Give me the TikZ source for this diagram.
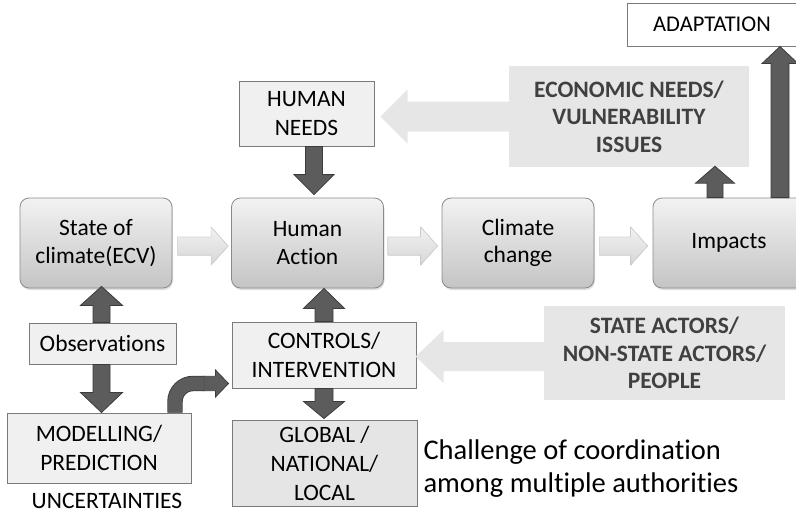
\documentclass[tikz,border=0pt]{standalone}
\usepackage{fontspec}
\setmainfont{Carlito}[Ligatures=NoCommon]
\usetikzlibrary{calc,shadows}

\definecolor{darkfill}{HTML}{5C5C5C}
\definecolor{darkline}{HTML}{3C3C3C}
\definecolor{boxline}{HTML}{8A8A8A}
\definecolor{rectline}{HTML}{7A7A7A}
\definecolor{paneltxt}{HTML}{404040}
\definecolor{panelfill}{HTML}{E6E6E6}
\definecolor{flowline}{HTML}{D2D2D2}

% block arrow: #1 style, #2 start, #3 tip, #4 shaft half width, #5 head half width, #6 head length
\newcommand\blockarrow[6]{%
  \coordinate (ba-a) at #2;
  \coordinate (ba-b) at #3;
  \coordinate (ba-h) at ($(ba-b)!#6!(ba-a)$);
  \filldraw[#1] ($(ba-a)!#4!90:(ba-b)$) -- ($(ba-h)!#4!-90:(ba-a)$)
    -- ($(ba-h)!#5!-90:(ba-a)$) -- (ba-b) -- ($(ba-h)!#5!90:(ba-a)$)
    -- ($(ba-h)!#4!90:(ba-a)$) -- ($(ba-a)!#4!-90:(ba-b)$) -- cycle;
}

\tikzset{
  mainbox/.style={rounded corners=9pt, draw=boxline, line width=0.8pt,
    top color=white!95!black, bottom color=white!77!black,
    minimum width=152pt, minimum height=90pt, align=center,
    font=\fontsize{23.5}{27.5}\selectfont,
    drop shadow={opacity=0.25, shadow xshift=1pt, shadow yshift=-2pt}},
  rectbox/.style={draw=rectline, line width=1pt, fill=white!94!black,
    align=center, font=\fontsize{23.5}{29}\selectfont, inner sep=2pt},
  panel/.style={fill=panelfill, align=center, text=paneltxt,
    font=\bfseries\fontsize{23.5}{27.5}\selectfont},
  darkarrow/.style={fill=darkfill, draw=darkline, line width=0.8pt, line join=miter},
  flowarrow/.style={top color=white!95!black, bottom color=white!84!black,
    draw=flowline, line width=0.6pt},
  bigarrow/.style={fill=panelfill, draw=none},
}

\begin{document}
\begin{tikzpicture}[x=1pt,y=-1pt]
\useasboundingbox (0,0) rectangle (796,515);
\clip (0,0) rectangle (796,515);

% panel centres (the panels themselves are drawn over their wide arrows)
\coordinate (eco) at (629,116.5);
\coordinate (sa) at (664.5,353);

% main chain
\node[mainbox] (soc) at (96,243) {State of\\climate(ECV)};
\node[mainbox] (ha) at (307.5,243) {Human\\Action};
\node[mainbox] (cc) at (518,243) {Climate\\change};
\node[mainbox] (imp) at (729,243) {Impacts};

% rectangular boxes
\node[rectbox, minimum width=135pt, minimum height=65pt] (hn) at (306.5,113.5) {HUMAN\\NEEDS};
\node[rectbox, fill=white, minimum width=170pt, minimum height=43pt,
  font=\fontsize{22.5}{26}\selectfont] (adp) at (712,24.5) {ADAPTATION};
\node[rectbox, minimum width=147pt, minimum height=41pt] (obs) at (102.5,343.5) {Observations};
\node[rectbox, minimum width=184pt, minimum height=70pt] (mod) at (99,448) {MODELLING/\\PREDICTION};
\node[rectbox, minimum width=184pt, minimum height=66pt] (ctl) at (324,355) {CONTROLS/\\INTERVENTION};
\node[rectbox, fill=white!90!black, minimum width=185pt, minimum height=86pt] (glb) at (324.5,463)
  {GLOBAL /\\NATIONAL/\\LOCAL};

% free labels
\node[anchor=base, inner sep=0pt, font=\fontsize{23.5}{28}\selectfont] (unc) at (107,508) {UNCERTAINTIES};
\node[anchor=west, align=left, font=\fontsize{28.5}{33}\selectfont] (chal) at (420,469)
  {Challenge of coordination\\among multiple authorities};

% wide light arrows out of the panels, then the panels over them
\blockarrow{bigarrow}{(eco)}{($(hn.east |- eco)+(6,0)$)}{15pt}{27pt}{27pt}
\blockarrow{bigarrow}{($(sa)+(0,3.5)$)}{($(ctl.east |- sa)+(-1,3.5)$)}{14.5pt}{26.5pt}{28pt}
\node[panel, minimum width=240pt, minimum height=101pt] (econ) at (eco)
  {ECONOMIC NEEDS/\\VULNERABILITY\\ISSUES};
\node[panel, minimum width=241pt, minimum height=94pt] (actors) at (sa)
  {STATE ACTORS/\\NON-STATE ACTORS/\\PEOPLE};

% light flow arrows along the chain
\blockarrow{flowarrow}{($(soc.east)+(5,3)$)}{($(ha.west)+(-3,3)$)}{9pt}{19pt}{17pt}
\blockarrow{flowarrow}{($(ha.east)+(4,3)$)}{($(cc.west)+(-4,3)$)}{9pt}{19pt}{17pt}
\blockarrow{flowarrow}{($(cc.east)+(5,3)$)}{($(imp.west)+(-5,3)$)}{9pt}{19pt}{17pt}

% dark vertical arrows
\blockarrow{darkarrow}{($(hn.south)+(7.5,0)$)}{($(hn.south |- ha.north)+(7.5,-3)$)}{8.5pt}{20pt}{20pt}
\blockarrow{darkarrow}{($(obs.north)+(-1,0)$)}{($(obs.north |- soc.south)+(-1,-2)$)}{8.5pt}{21pt}{19pt}
\blockarrow{darkarrow}{($(obs.south)+(-1,0)$)}{($(obs.south |- mod.north)+(-1,0)$)}{8.5pt}{21pt}{20pt}
\blockarrow{darkarrow}{(ctl.north)}{(ctl.north |- ha.south)}{9pt}{20.5pt}{20pt}
\blockarrow{darkarrow}{(ctl.south)}{($(ctl.south |- glb.north)+(0,-1)$)}{9pt}{20.5pt}{17pt}
\blockarrow{darkarrow}{($(imp.north)+(-14,0)$)}{($(imp.north |- econ.south)+(-14,-1)$)}{8pt}{19.5pt}{17pt}
\blockarrow{darkarrow}{($(imp.north)+(51,0)$)}{($(imp.north |- adp.south)+(51,0)$)}{9pt}{18pt}{17pt}

% bent arrow from modelling to controls
\blockarrow{darkarrow}{($(ctl.west)+(-28,28.5)$)}{($(ctl.west)+(-3,28.5)$)}{7.2pt}{13.5pt}{13pt}
\draw[darkline, line width=15.4pt, rounded corners=18pt]
  ($(mod.north)+(76,0)$) |- ($(ctl.west)+(-27,28.5)$);
\draw[darkfill, line width=13.6pt, rounded corners=18pt]
  ($(mod.north)+(76,0)$) |- ($(ctl.west)+(-27,28.5)$);
\end{tikzpicture}
\end{document}
